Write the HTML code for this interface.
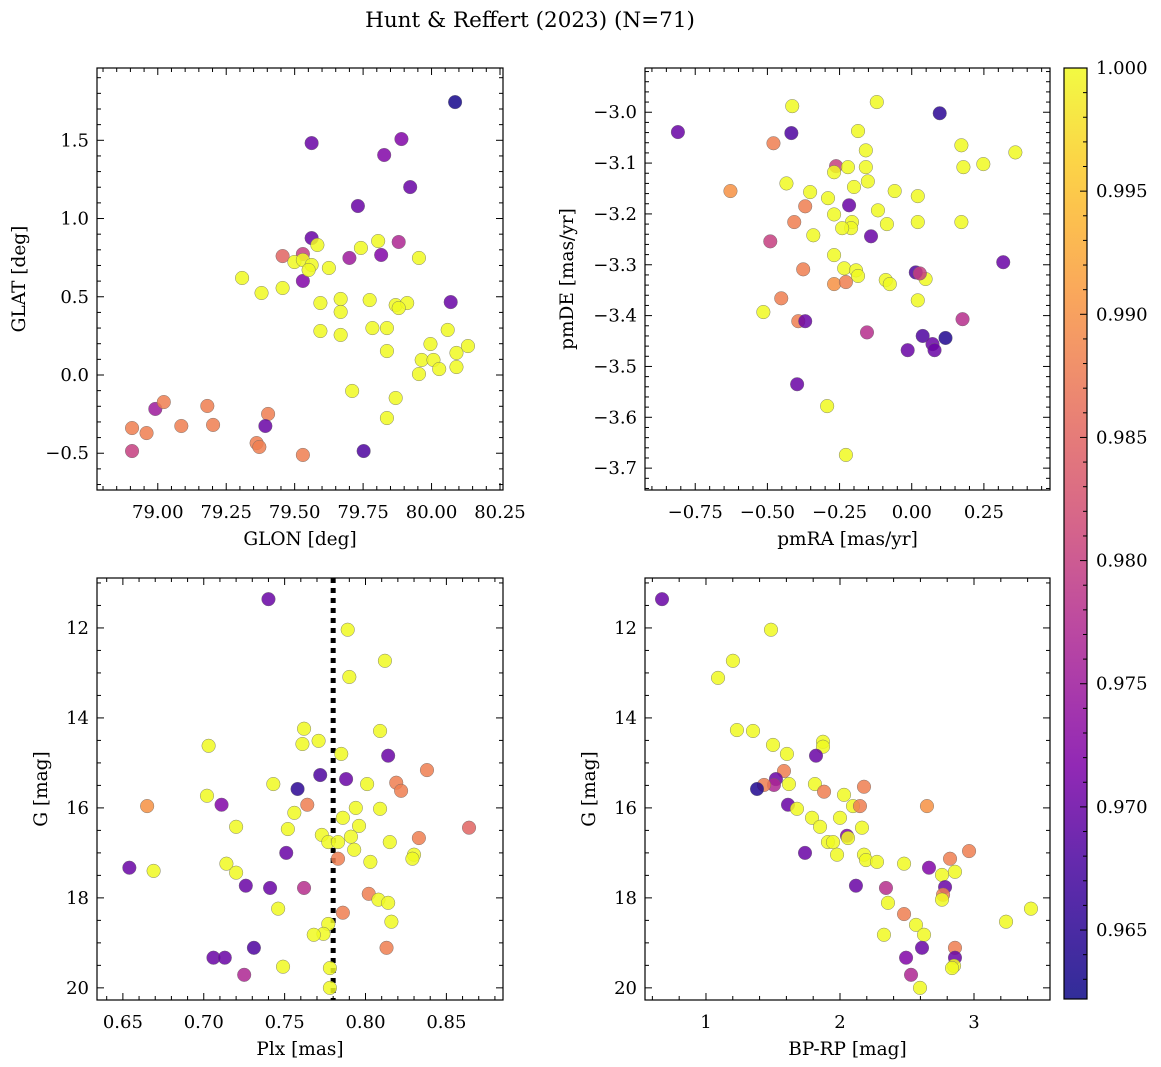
<!DOCTYPE html>
<html><head><meta charset="utf-8"><style>
body{margin:0;background:#fff}
svg{display:block;font-family:"DejaVu Serif","Liberation Serif",serif}
</style></head><body>
<svg id="fig" width="1161" height="1067" viewBox="0 0 1161 1067" xmlns="http://www.w3.org/2000/svg">
<text x="530" y="27" font-size="21.5" text-anchor="middle">Hunt &amp; Reffert (2023) (N=71)</text>
</svg>
<script>
// ---- data (per panel) ----
const glon=[80.086,79.562,79.890,79.827,79.922,79.731,79.562,79.880,79.816,79.700,79.530,79.530,79.456,79.308,79.379,79.456,79.499,79.530,79.583,79.562,79.551,79.625,79.742,79.805,79.954,79.668,79.774,79.869,79.911,79.880,79.594,79.668,79.784,79.837,79.594,79.668,79.837,79.996,80.059,80.070,79.964,80.007,80.091,80.133,79.954,80.028,80.091,79.710,79.869,79.837,78.991,79.022,79.181,79.086,79.202,78.906,78.959,79.403,79.393,79.361,79.371,78.906,79.530,79.752];
const glat=[1.744,1.482,1.508,1.406,1.201,1.080,0.875,0.850,0.767,0.748,0.773,0.601,0.760,0.620,0.524,0.556,0.722,0.735,0.831,0.703,0.671,0.684,0.812,0.856,0.748,0.486,0.479,0.447,0.460,0.428,0.460,0.403,0.300,0.300,0.281,0.256,0.153,0.198,0.288,0.466,0.096,0.096,0.141,0.185,0.006,0.038,0.051,-0.102,-0.147,-0.275,-0.217,-0.173,-0.198,-0.326,-0.319,-0.339,-0.371,-0.249,-0.326,-0.435,-0.46,-0.486,-0.511,-0.486];
const prob1=[0.963,0.970,0.972,0.972,0.970,0.970,0.970,0.977,0.972,0.975,0.980,0.972,0.985,1,1,1,1,1,1,1,1,1,1,1,1,1,1,1,1,1,1,1,1,1,1,1,1,1,1,0.970,1,1,1,1,1,1,1,1,1,1,0.975,0.988,0.988,0.988,0.988,0.988,0.988,0.988,0.970,0.988,0.988,0.980,0.988,0.968];

const pmra=[-0.810,-0.414,-0.417,-0.121,0.097,-0.479,-0.186,-0.159,0.172,-0.628,-0.434,-0.262,-0.269,-0.221,-0.159,-0.152,-0.200,-0.059,0.021,0.179,0.248,0.359,-0.352,-0.290,-0.369,-0.217,-0.117,-0.086,0.021,0.172,-0.207,-0.210,-0.241,-0.269,-0.407,-0.341,-0.141,-0.490,-0.269,-0.234,-0.193,-0.186,-0.090,-0.076,0.048,0.014,0.028,0.317,-0.376,-0.269,-0.228,0.021,-0.452,-0.514,-0.393,-0.369,0.176,-0.155,0.038,0.117,0.072,0.079,-0.014,-0.397,-0.293,-0.228];
const pmde=[-3.039,-2.988,-3.041,-2.980,-3.002,-3.061,-3.037,-3.075,-3.065,-3.155,-3.140,-3.106,-3.118,-3.108,-3.108,-3.136,-3.147,-3.155,-3.165,-3.108,-3.102,-3.079,-3.157,-3.169,-3.185,-3.183,-3.193,-3.220,-3.216,-3.216,-3.216,-3.228,-3.228,-3.201,-3.216,-3.242,-3.244,-3.254,-3.281,-3.307,-3.311,-3.322,-3.330,-3.338,-3.328,-3.315,-3.317,-3.295,-3.309,-3.338,-3.334,-3.370,-3.366,-3.393,-3.411,-3.411,-3.407,-3.433,-3.440,-3.444,-3.456,-3.468,-3.468,-3.535,-3.578,-3.674];
const prob2=[0.970,1,0.968,1,0.965,0.988,1,1,1,0.990,1,0.980,1,1,1,1,1,1,1,1,1,1,1,1,0.988,0.970,1,1,1,1,1,1,1,1,0.988,1,0.970,0.980,1,1,1,1,1,1,1,0.968,0.980,0.970,0.988,0.990,0.988,1,0.988,1,0.988,0.970,0.978,0.978,0.968,0.964,0.970,0.970,0.970,0.970,1,1];

const plx=[0.740,0.789,0.812,0.790,0.762,0.809,0.703,0.761,0.771,0.785,0.814,0.772,0.838,0.788,0.743,0.758,0.702,0.801,0.819,0.822,0.711,0.665,0.764,0.756,0.794,0.809,0.786,0.796,0.720,0.752,0.773,0.791,0.864,0.833,0.815,0.777,0.783,0.793,0.751,0.830,0.829,0.783,0.714,0.803,0.654,0.669,0.720,0.726,0.741,0.762,0.802,0.746,0.808,0.814,0.786,0.816,0.777,0.774,0.768,0.731,0.813,0.706,0.713,0.749,0.778,0.725,0.778];
const gmag3=[11.36,12.04,12.73,13.09,14.24,14.29,14.62,14.58,14.51,14.80,14.84,15.27,15.16,15.36,15.47,15.58,15.73,15.47,15.44,15.62,15.93,15.96,15.93,16.11,16.00,16.02,16.22,16.40,16.42,16.47,16.60,16.64,16.44,16.67,16.76,16.76,16.76,16.93,17.00,17.04,17.13,17.13,17.24,17.20,17.33,17.40,17.44,17.73,17.78,17.78,17.91,18.24,18.04,18.11,18.33,18.53,18.58,18.80,18.82,19.11,19.11,19.33,19.33,19.53,19.56,19.71,20.00];
const prob3=[0.970,1,1,1,1,1,1,1,1,1,0.970,0.968,0.988,0.970,1,0.965,1,1,0.988,0.988,0.972,0.990,0.988,1,1,1,1,1,1,1,1,1,0.985,0.988,1,1,1,1,0.970,1,1,0.988,1,1,0.970,1,1,0.970,0.970,0.978,0.988,1,1,1,0.988,1,1,1,1,0.968,0.988,0.970,0.970,1,1,0.977,1];

const bprp=[0.672,1.485,1.201,1.090,1.231,1.351,1.500,1.873,1.873,1.604,1.821,1.582,1.522,1.507,1.433,1.619,1.813,1.381,1.881,2.030,2.179,1.612,1.679,2.097,2.149,2.649,1.791,2.000,1.851,2.164,2.052,2.060,1.910,1.948,2.963,1.978,1.739,2.179,2.194,2.276,2.821,2.478,2.664,2.858,2.761,2.119,2.343,2.784,2.769,2.761,2.358,2.478,3.425,3.239,2.567,2.627,2.328,2.612,2.858,2.493,2.858,2.851,2.836,2.530,2.597];
const gmag4=[11.36,12.04,12.73,13.11,14.27,14.29,14.60,14.53,14.64,14.80,14.84,15.18,15.36,15.49,15.49,15.47,15.47,15.58,15.64,15.71,15.53,15.93,16.02,15.96,15.96,15.96,16.22,16.22,16.42,16.44,16.62,16.67,16.76,16.76,16.96,17.04,17.00,17.04,17.16,17.20,17.13,17.24,17.33,17.42,17.49,17.73,17.78,17.76,17.93,18.04,18.11,18.36,18.24,18.53,18.60,18.82,18.82,19.11,19.11,19.33,19.33,19.51,19.56,19.71,20.00];
const prob4=[0.970,1,1,1,1,1,1,1,1,1,0.970,0.988,0.970,0.977,0.988,1,1,0.964,0.988,1,0.988,0.970,1,1,0.988,0.990,1,1,1,1,0.972,1,1,1,0.988,1,0.970,1,1,1,0.988,1,0.972,1,1,0.970,0.978,0.970,0.988,1,1,0.988,1,1,1,1,1,0.970,0.988,0.972,0.970,1,1,0.977,1];

const cbTicks=[0.965,0.970,0.975,0.980,0.985,0.990,0.995,1.000];
const VMIN=0.9622, VMAX=1.0;

// ---- helpers ----
const NS="http://www.w3.org/2000/svg";
const svg=document.getElementById('fig');
function mk(tag,attrs,parent){const e=document.createElementNS(NS,tag);for(const k in attrs)e.setAttribute(k,attrs[k]);(parent||svg).appendChild(e);return e;}
const stops=[[0,[13,8,135]],[0.13,[65,4,157]],[0.25,[126,3,168]],[0.38,[170,35,149]],[0.5,[204,71,120]],[0.63,[230,108,92]],[0.75,[248,149,64]],[0.88,[253,196,39]],[1,[240,249,33]]];
function plasma(t){t=Math.max(0,Math.min(1,t));for(let i=1;i<stops.length;i++){if(t<=stops[i][0]){const a=stops[i-1],b=stops[i];const f=(t-a[0])/(b[0]-a[0]);return 'rgb('+[0,1,2].map(j=>Math.round(a[1][j]+(b[1][j]-a[1][j])*f)).join(',')+')';}}return 'rgb(240,249,33)';}
function col(c){return plasma((c-VMIN)/(VMAX-VMIN));}
function fmt(v,d){if(Math.abs(v)<1e-9)v=0;return (v<0?'\u2212':'')+Math.abs(v).toFixed(d);}
const TFS=18, LFS=18.5;

function panel(o){
  const g=mk('g',{});
  
  
  const sx=v=>o.x0+(v-o.xmin)/(o.xmax-o.xmin)*(o.x1-o.x0);
  const sy=o.inv?(v=>o.y0+(v-o.ymin)/(o.ymax-o.ymin)*(o.y1-o.y0)):(v=>o.y1-(v-o.ymin)/(o.ymax-o.ymin)*(o.y1-o.y0));
  if(o.vline!==undefined){const l=mk('line',{x1:sx(o.vline),x2:sx(o.vline),y1:o.y0,y2:o.y1,stroke:'#000','stroke-width':5,'stroke-dasharray':'5,5'},g);}
  for(let i=0;i<o.xs.length;i++){
    const c=mk('circle',{cx:sx(o.xs[i]),cy:sy(o.ys[i]),r:6.8,fill:col(o.cs[i]),'fill-opacity':0.85,stroke:'#666','stroke-width':0.5,'stroke-opacity':0.8},g);
    
    
  }
  const fr=mk('rect',{x:o.x0,y:o.y0,width:o.x1-o.x0,height:o.y1-o.y0,fill:'none',stroke:'#000','stroke-width':1.2},g);
  
  for(let v=Math.ceil(o.xmin/o.xminor-1e-6)*o.xminor;v<=o.xmax+1e-9;v+=o.xminor){
    const px=sx(v);const maj=Math.abs(v/o.xmajor-Math.round(v/o.xmajor))<1e-4;const L=maj?7:4;
    mk('line',{x1:px,x2:px,y1:o.y1,y2:o.y1-L,stroke:'#000','stroke-width':1},g);
    mk('line',{x1:px,x2:px,y1:o.y0,y2:o.y0+L,stroke:'#000','stroke-width':1},g);
    if(maj){const t=mk('text',{x:px,y:o.y1+28,'font-size':TFS,'text-anchor':'middle'},g);t.textContent=fmt(v,o.xd);}
  }
  for(let v=Math.ceil(o.ymin/o.yminor-1e-6)*o.yminor;v<=o.ymax+1e-9;v+=o.yminor){
    const py=sy(v);const maj=Math.abs(v/o.ymajor-Math.round(v/o.ymajor))<1e-4;const L=maj?7:4;
    mk('line',{x1:o.x0,x2:o.x0+L,y1:py,y2:py,stroke:'#000','stroke-width':1},g);
    mk('line',{x1:o.x1,x2:o.x1-L,y1:py,y2:py,stroke:'#000','stroke-width':1},g);
    if(maj){const t=mk('text',{x:o.x0-8,y:py+6,'font-size':TFS,'text-anchor':'end'},g);t.textContent=fmt(v,o.yd);}
  }
  const xl=mk('text',{x:(o.x0+o.x1)/2,y:o.y1+55,'font-size':LFS,'text-anchor':'middle'},g);xl.textContent=o.xlabel;
  
  const yl=mk('text',{x:o.ylx,y:(o.y0+o.y1)/2,'font-size':LFS,'text-anchor':'middle',transform:'rotate(-90 '+o.ylx+' '+(o.y0+o.y1)/2+')'},g);yl.textContent=o.ylabel;
  
}

panel({name:'glon-glat-panel',x0:97,x1:503,y0:68,y1:490,xmin:78.778,xmax:80.261,ymin:-0.735,ymax:1.962,xmajor:0.25,xminor:0.05,ymajor:0.5,yminor:0.1,xd:2,yd:1,xs:glon,ys:glat,cs:prob1,xlabel:'GLON [deg]',ylabel:'GLAT [deg]',ylx:25});
panel({name:'proper-motion-panel',x0:645,x1:1050,y0:68,y1:490,xmin:-0.924,xmax:0.479,ymin:-3.743,ymax:-2.913,xmajor:0.25,xminor:0.05,ymajor:0.1,yminor:0.02,xd:2,yd:1,xs:pmra,ys:pmde,cs:prob2,xlabel:'pmRA [mas/yr]',ylabel:'pmDE [mas/yr]',ylx:573});
panel({name:'parallax-magnitude-panel',x0:97,x1:503,y0:578,y1:1000,xmin:0.634,xmax:0.885,ymin:10.89,ymax:20.27,inv:true,xmajor:0.05,xminor:0.01,ymajor:2,yminor:0.5,xd:2,yd:0,xs:plx,ys:gmag3,cs:prob3,xlabel:'Plx [mas]',ylabel:'G [mag]',ylx:47,vline:0.78});
panel({name:'cmd-panel',x0:645,x1:1050,y0:578,y1:1000,xmin:0.545,xmax:3.567,ymin:10.89,ymax:20.27,inv:true,xmajor:1,xminor:0.2,ymajor:2,yminor:0.5,xd:0,yd:0,xs:bprp,ys:gmag4,cs:prob4,xlabel:'BP-RP [mag]',ylabel:'G [mag]',ylx:595});

// colorbar
const cb=mk('g',{});


const defs=mk('defs',{},svg);
const lg=mk('linearGradient',{id:'cbg',x1:0,y1:1,x2:0,y2:0},defs);
for(let i=0;i<=20;i++){mk('stop',{offset:(i/20),'stop-color':plasma(i/20),'stop-opacity':0.85},lg);}
const CX0=1064,CX1=1087,CY0=68,CY1=999;
mk('rect',{x:CX0,y:CY0,width:CX1-CX0,height:CY1-CY0,fill:'url(#cbg)',stroke:'#000','stroke-width':1.2},cb);
const cy=v=>CY1-(v-VMIN)/(VMAX-VMIN)*(CY1-CY0);
for(let k=963;k<=1000;k++){const v=k/1000;const maj=k%5===0;mk('line',{x1:CX1,x2:CX1-(maj?7:4),y1:cy(v),y2:cy(v),stroke:'#000','stroke-width':1},cb);}
cbTicks.forEach(v=>{const t=mk('text',{x:1096,y:cy(v)+6,'font-size':TFS},cb);t.textContent=v.toFixed(3);});
</script>
</body></html>
